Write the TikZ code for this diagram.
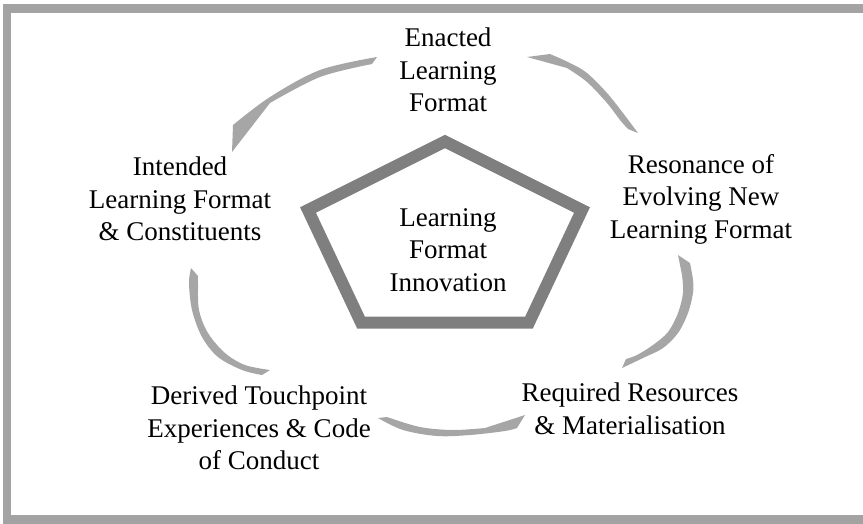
\documentclass[tikz,border=0pt]{standalone}
\usepackage{fontspec}
\setmainfont{Liberation Serif}
\newfontfamily\stagefont{Liberation Serif}
\definecolor{framegray}{HTML}{A3A3A3}
\definecolor{arcgray}{HTML}{A6A6A6}
\definecolor{pentagray}{HTML}{7F7F7F}
\begin{document}
\begin{tikzpicture}[x=1pt,y=-1pt,
  lbl/.style={align=center,inner sep=0pt,text=black,
    font=\stagefont\fontsize{27}{32.5}\selectfont},
  cyclearrow/.style={fill=arcgray,draw=none},
  edge/.style={smooth,tension=0.55}]
\useasboundingbox (0,0) rectangle (863,523);

% outer frame (right side runs past the page edge)
\draw[framegray,line width=8.5pt] (7,8.5) rectangle (880,519.5);

% central pentagon
\coordinate (p1) at (445,141.5);
\coordinate (p2) at (582,210);
\coordinate (p3) at (529,322.5);
\coordinate (p4) at (361,322.5);
\coordinate (p5) at (308,210);
\draw[pentagray,line width=12pt,line join=miter,miter limit=10]
  (p1) -- (p2) -- (p3) -- (p4) -- (p5) -- cycle;
\node[lbl] (core) at (448,250) {Learning\\Format\\Innovation};

% the five stages
\node[lbl] (enacted)   at (448,70)  {Enacted\\Learning\\Format};
\node[lbl] (resonance) at (701,199) {Resonance of\\Evolving New\\Learning Format};
\node[lbl] (required)  at (630,409) {Required Resources\\\& Materialisation};
\node[lbl] (derived)   at (259,428) {Derived Touchpoint\\Experiences \& Code\\of Conduct};
\node[lbl] (intended)  at (180,199) {Intended\\Learning Format\\\& Constituents};

% curved cycle arrows (tail thin, head flared on the inner side)
% enacted -> intended
\fill[cyclearrow] plot[edge] coordinates {(377,57) (320,70) (270,97) (233,125)}
  -- (232,152) -- (270,103)
  -- plot[edge] coordinates {(270,103) (320,77) (372,64)} -- cycle;
% resonance -> enacted
\fill[cyclearrow] plot[edge] coordinates {(550,54) (570,63) (587,73) (607,93) (623,113) (638,133)}
  -- (628,129)
  -- plot[edge] coordinates {(628,129) (620,120) (607,103) (587,82) (567,68)}
  -- (527,57) -- cycle;
% required -> resonance
\fill[cyclearrow] plot[edge] coordinates {(690,263) (693,280) (693,293) (688,313) (678,333) (663,348) (643,358) (622,368)}
  -- (626,359)
  -- plot[edge] coordinates {(626,359) (637,355) (653,345) (668,332) (678,313) (683,293) (682,275)}
  -- (678,255) -- cycle;
% intended -> derived
\fill[cyclearrow] plot[edge] coordinates {(191,268) (189,283) (192,310) (202,337) (218,357) (242,370) (262,375)}
  -- (270,370)
  -- plot[edge] coordinates {(270,370) (245,365) (225,353) (208,333) (199,310) (198,283) (198,276)}
  -- cycle;
% derived -> required
\fill[cyclearrow] plot[edge] coordinates {(378,418) (403,430) (437,436) (470,435) (505,431) (517,428)}
  -- (525,415) -- (485,428)
  -- plot[edge] coordinates {(485,428) (453,430) (420,427) (387,417)} -- cycle;
\end{tikzpicture}
\end{document}
